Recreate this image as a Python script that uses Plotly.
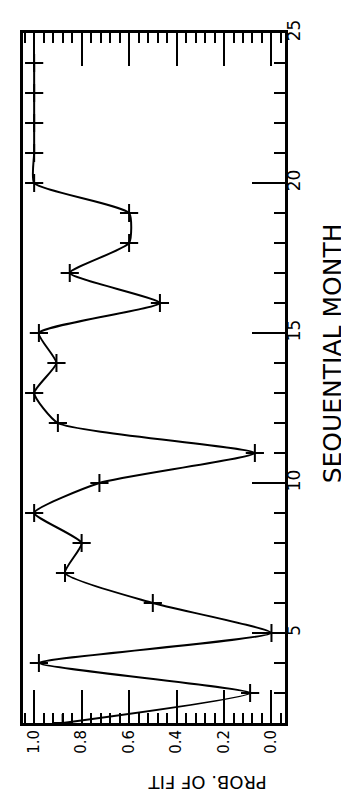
import plotly.graph_objects as go

# Data
months = [2, 3, 4, 5, 6, 7, 8, 9, 10, 11, 12, 13, 14, 15, 16, 17, 18, 19, 20, 21, 22, 23, 24]
prob_fit = [0.88, 0.09, 0.98, 0.0, 0.50, 0.87, 0.80, 1.0, 0.725, 0.07, 0.90, 1.0, 0.906,
            0.98, 0.47, 0.85, 0.60, 0.60, 1.0, 1.0, 1.0, 1.0, 1.0]
prob_ticks = [0.0, 0.2, 0.4, 0.6, 0.8, 1.0]
prob_ticklabels = ["0.0", "0.2", "0.4", "0.6", "0.8", "1.0"]
month_ticks = [5, 10, 15, 20, 25]
month_ticklabels = ["5", "10", "15", "20", "25"]
x_title = "PROB. OF FIT"
y_title = "SEQUENTIAL MONTH"

FONT = "DejaVu Sans"

fig = go.Figure()
fig.add_trace(go.Scatter(
    x=prob_fit, y=months, mode="lines+markers",
    line=dict(color="black", width=2, shape="spline", smoothing=0.5),
    marker=dict(symbol="cross-thin", size=13, line=dict(color="black", width=2)),
    showlegend=False,
))

fig.update_layout(
    width=349, height=792,
    margin=dict(l=15, r=72, t=14, b=77),
    paper_bgcolor="white", plot_bgcolor="white",
    font=dict(family=FONT, color="black"),
    xaxis=dict(
        range=[1.047, -0.057], showgrid=False, zeroline=False,
        tickvals=prob_ticks, ticktext=prob_ticklabels,
        ticks="inside", ticklen=33, tickwidth=2, tickcolor="black",
        tickangle=-90, tickfont=dict(family=FONT, size=15, color="black"),
        ticklabelstandoff=-2,
        showline=True, linecolor="black", linewidth=3, mirror="ticks",
        minor=dict(dtick=0.04, tick0=0, ticks="inside", ticklen=10, tickwidth=2,
                   tickcolor="black", showgrid=False),
    ),
    yaxis=dict(
        range=[2, 25], side="right", showgrid=False, zeroline=False,
        tickvals=month_ticks, ticktext=month_ticklabels,
        ticks="inside", ticklen=33, tickwidth=2, tickcolor="black",
        tickangle=-90, tickfont=dict(family=FONT, size=17, color="black"),
        ticklabelstandoff=-8,
        showline=True, linecolor="black", linewidth=3, mirror=True,
        minor=dict(dtick=1, tick0=0, ticks="inside", ticklen=11, tickwidth=2,
                   tickcolor="black", showgrid=False),
    ),
    annotations=[
        dict(text=y_title, xref="paper", yref="paper", x=1.18, y=0.536,
             xanchor="center", yanchor="middle", textangle=-90, showarrow=False,
             font=dict(family=FONT, size=25, color="black")),
        dict(text=x_title, xref="paper", yref="paper", x=0.702, y=-0.087,
             xanchor="center", yanchor="middle", textangle=180, showarrow=False,
             font=dict(family=FONT, size=18, color="black")),
    ],
)

fig.write_html("out.html")
